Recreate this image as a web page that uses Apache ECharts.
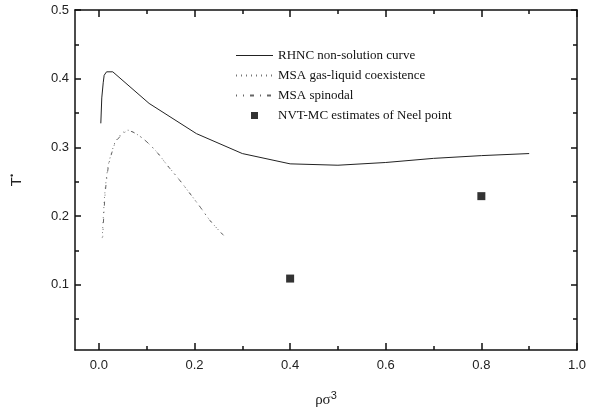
<!DOCTYPE html>
<html>
<head>
<meta charset="utf-8">
<script src="https://cdn.jsdelivr.net/npm/echarts@6/dist/echarts.min.js"></script>
<style>html,body{margin:0;padding:0;background:#fff}#c{width:589px;height:413px}</style>
</head>
<body>
<div id="c"></div>
<script>
// RHNC non-solution curve [rho sigma^3, T*]
const rhncCurve = [[0.004,0.335],[0.006,0.372],[0.009,0.394],[0.011,0.405],[0.016,0.410],[0.029,0.410],[0.105,0.364],[0.204,0.320],[0.300,0.291],[0.400,0.276],[0.500,0.274],[0.600,0.278],[0.700,0.284],[0.800,0.288],[0.900,0.291]];
// MSA gas-liquid coexistence
const msaCoexistence = [[0.007,0.168],[0.012,0.230],[0.019,0.272],[0.026,0.291],[0.036,0.310],[0.060,0.325],[0.088,0.315],[0.119,0.295],[0.143,0.274],[0.167,0.254],[0.187,0.236],[0.211,0.214],[0.232,0.194],[0.259,0.173]];
// MSA spinodal
const msaSpinodal = [[0.008,0.170],[0.013,0.232],[0.020,0.273],[0.027,0.292],[0.037,0.310],[0.062,0.324],[0.090,0.314],[0.120,0.294],[0.144,0.273],[0.168,0.253],[0.188,0.235],[0.212,0.213],[0.233,0.193],[0.262,0.171]];
// NVT-MC estimates of Neel point
const neelPoints = [[0.4,0.109],[0.8,0.229]];

const xMajor = [0,0.2,0.4,0.6,0.8,1.0];
const xMinor = [0.1,0.3,0.5,0.7,0.9];
const yMajor = [0.1,0.2,0.3,0.4,0.5];
const yMinor = [0.05,0.15,0.25,0.35,0.45];

const X0 = -0.05, X1 = 1.0, Y0 = 0.005, Y1 = 0.5;
const lineCol = '#111';
function xa(pos, ticks, len, showLine, labels) {
  return {
    type:'value', position:pos, min:X0, max:X1, gridIndex:0,
    axisLine:{show:showLine, onZero:false, lineStyle:{color:lineCol,width:1.5}},
    axisTick:{show:true, inside:true, length:len, customValues:ticks, lineStyle:{color:lineCol,width:1.5}},
    axisLabel:labels ? {show:true, customValues:xMajor, formatter:v=>v.toFixed(1), margin:9, fontFamily:'Liberation Sans', fontSize:13, color:'#222'} : {show:false},
    splitLine:{show:false},
    name: labels ? 'ρσ{s|3}' : '', nameLocation:'middle', nameGap:40,
    nameTextStyle:{fontFamily:'Liberation Serif', fontSize:15, color:'#222', rich:{s:{fontSize:11, verticalAlign:'bottom', padding:[0,0,10,0], fontFamily:'Liberation Sans'}}}
  };
}
function ya(pos, ticks, len, showLine, labels) {
  return {
    type:'value', position:pos, min:Y0, max:Y1, gridIndex:0,
    axisLine:{show:showLine, onZero:false, lineStyle:{color:lineCol,width:1.5}},
    axisTick:{show:true, inside:true, length:len, customValues:ticks, lineStyle:{color:lineCol,width:1.5}},
    axisLabel:labels ? {show:true, customValues:yMajor, formatter:v=>v.toFixed(1), margin:6, fontFamily:'Liberation Sans', fontSize:13, color:'#222'} : {show:false},
    splitLine:{show:false},
    name: labels ? 'T{s|•}' : '', nameLocation:'middle', nameGap:50, nameRotate:90,
    nameTextStyle:{fontFamily:'Liberation Sans', fontSize:15, color:'#222', rich:{s:{fontSize:9, padding:[0,0,8,0]}}}
  };
}

const chart = echarts.init(document.getElementById('c'));
chart.setOption({
  animation:false,
  backgroundColor:'#fff',
  grid:{left:70.5, right:9, top:10, bottom:61},
  legend:{
    orient:'vertical', left:230, top:44, itemWidth:37, itemHeight:7, itemGap:7,
    textStyle:{fontFamily:'Liberation Serif', fontSize:13, color:'#111'},
    data:[
      {name:'RHNC non-solution curve', itemStyle:{opacity:0}, lineStyle:{width:1}},
      {name:'MSA gas-liquid coexistence', itemStyle:{opacity:0}},
      {name:'MSA spinodal', itemStyle:{opacity:0}},
      {name:'NVT-MC estimates of Neel point', icon:'path://M0,0H1V1H0Z'}
    ]
  },
  xAxis:[xa('bottom', xMajor, 7, true, true), xa('bottom', xMinor, 4, false, false), xa('top', xMajor, 7, true, false), xa('top', xMinor, 4, false, false)],
  yAxis:[ya('left', yMajor, 6, true, true), ya('left', yMinor, 4, false, false), ya('right', yMajor, 6, true, false), ya('right', yMinor, 4, false, false)],
  series:[
    {name:'RHNC non-solution curve', type:'line', data:rhncCurve, symbol:'none', lineStyle:{color:'#222', width:1}, itemStyle:{color:'#222'}},
    {name:'MSA gas-liquid coexistence', type:'line', data:msaCoexistence, symbol:'none', smooth:0.3, lineStyle:{color:'#777', width:1, type:[1,4]}, itemStyle:{color:'#777'}},
    {name:'MSA spinodal', type:'line', data:msaSpinodal, symbol:'none', smooth:0.3, lineStyle:{color:'#666', width:1, type:[4,6,1,6], dashOffset:3}, itemStyle:{color:'#666'}},
    {name:'NVT-MC estimates of Neel point', type:'scatter', data:neelPoints, symbol:'rect', symbolSize:8, itemStyle:{color:'#000'}}
  ]
});
</script>
</body>
</html>
